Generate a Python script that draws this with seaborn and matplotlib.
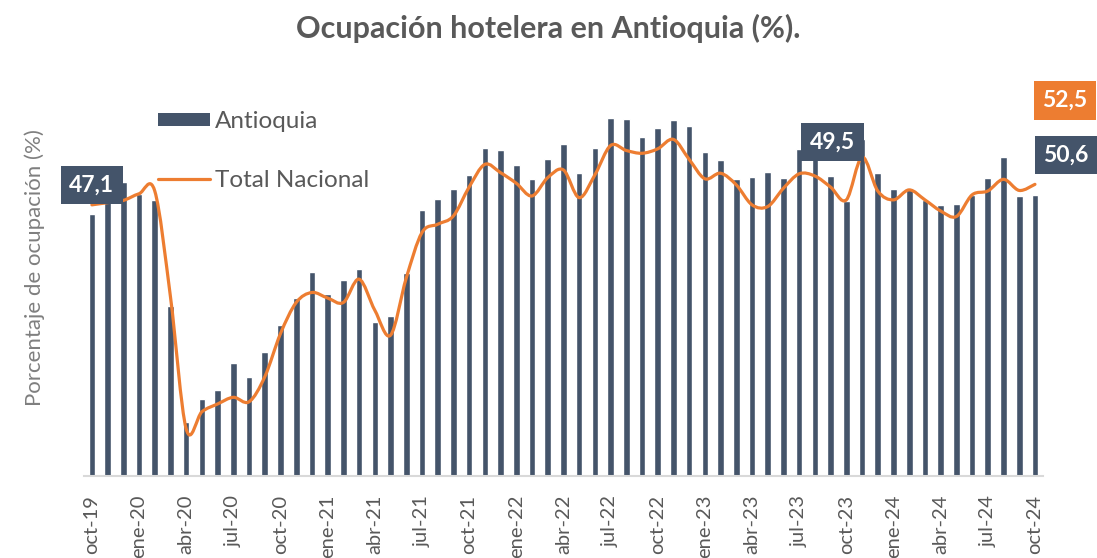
import numpy as np
import pandas as pd
import matplotlib.pyplot as plt
import seaborn as sns
from matplotlib.path import Path
from matplotlib.patches import PathPatch, Patch
from matplotlib.lines import Line2D

# Periodos mensuales oct-19 a oct-24
meses = ['ene', 'feb', 'mar', 'abr', 'may', 'jun', 'jul', 'ago', 'sep', 'oct', 'nov', 'dic']
periodos = [f'{meses[(9 + i) % 12]}-{19 + (9 + i) // 12}' for i in range(61)]

# Ocupacion hotelera Antioquia (%)
antioquia = [47.1, 51.0, 52.9, 50.7, 49.6, 30.6, 9.6, 13.8, 15.4, 20.3,
             17.8, 22.2, 27.1, 32.0, 36.7, 32.8, 35.3, 37.2, 27.6, 28.8,
             36.6, 47.8, 49.8, 51.6, 54.1, 59.0, 58.7, 55.9, 53.4, 57.1,
             59.8, 54.5, 59.0, 64.4, 64.2, 61.0, 62.6, 64.1, 63.1, 58.3,
             56.8, 53.5, 53.8, 54.7, 53.7, 58.8, 59.6, 54.0, 49.5, 60.7,
             54.6, 51.6, 51.8, 49.6, 48.8, 49.0, 50.5, 53.7, 57.4, 50.4,
             50.6]

# Ocupacion hotelera Total Nacional (%)
nacional = [48.8, 49.2, 49.6, 50.8, 51.3, 32.2, 8.4, 11.5, 12.9, 14.1,
            13.3, 17.8, 25.6, 31.2, 33.0, 32.0, 31.2, 35.4, 29.8, 25.3,
            35.6, 43.8, 45.3, 46.8, 52.0, 56.1, 54.6, 52.7, 50.4, 53.7,
            55.1, 50.1, 54.2, 59.5, 58.6, 58.1, 58.9, 60.6, 57.0, 53.5,
            54.5, 52.4, 48.8, 48.5, 51.8, 54.4, 54.0, 52.0, 49.7, 57.4,
            51.3, 49.7, 51.5, 49.7, 47.7, 46.7, 50.6, 51.3, 53.4, 51.4,
            52.5]

AZUL = '#44546A'
NARANJA = '#ED7D31'
GRIS = '#595959'


def curva_suave(x, y):
    """Trazo suavizado tipo Excel (Catmull-Rom a Bezier)"""
    pts = np.column_stack([x, y])
    ext = np.vstack([pts[0], pts, pts[-1]])
    verts = [pts[0]]
    codes = [Path.MOVETO]
    for i in range(len(pts) - 1):
        p0, p1, p2, p3 = ext[i], ext[i + 1], ext[i + 2], ext[i + 3]
        verts += [p1 + (p2 - p0) / 6, p2 - (p3 - p1) / 6, p2]
        codes += [Path.CURVE4] * 3
    return Path(verts, codes)


sns.set_theme(style='white')
plt.rcParams['font.family'] = ['Lato', 'DejaVu Sans']

fig = plt.figure(figsize=(10.97, 5.58), dpi=100)
ax = fig.add_axes([0.0766, 0.1478, 0.874, 0.7455])

df = pd.DataFrame({'periodo': periodos, 'antioquia': antioquia})
sns.barplot(data=df, x='periodo', y='antioquia', color=AZUL, saturation=1,
            width=0.42, ax=ax, zorder=2)

linea = PathPatch(curva_suave(np.arange(len(nacional)), nacional), fill=False,
                  ec=NARANJA, lw=2.3, zorder=3, capstyle='round')
ax.add_patch(linea)

ax.set_xlim(-0.5, 60.5)
ax.set_ylim(0, 75)
ax.set_yticks([])
ax.set_xticks(range(0, 61, 3))
ax.set_xticklabels(periodos[::3], rotation=90, color=GRIS, fontsize=14.5)
ax.tick_params(axis='x', length=0, pad=14)
for lado in ['top', 'right', 'left']:
    ax.spines[lado].set_visible(False)
ax.spines['bottom'].set_color('#D9D9D9')
ax.spines['bottom'].set_linewidth(1.5)
ax.set_xlabel('')
ax.set_ylabel('Porcentaje de ocupación (%)', color='#7F7F7F', fontsize=16, labelpad=28)

fig.suptitle('Ocupación hotelera en Antioquia (%).', x=0.5, y=0.975,
             fontsize=22, fontweight='bold', color=GRIS)

# Etiquetas de datos
estilo = dict(textcoords='offset pixels', ha='center', va='center', color='white',
              fontsize=16.5, fontweight='bold', zorder=5)
caja_azul = dict(boxstyle='square,pad=0.38', fc=AZUL, ec='none')
caja_naranja = dict(boxstyle='square,pad=0.38', fc=NARANJA, ec='none')
ax.annotate('47,1', xy=(0, antioquia[0]), xytext=(0, 29), bbox=caja_azul, **estilo)
ax.annotate('49,5', xy=(48, antioquia[48]), xytext=(-14, 59), bbox=caja_azul, **estilo)
ax.annotate('50,6', xy=(60, antioquia[60]), xytext=(31, 40), bbox=caja_azul, **estilo)
ax.annotate('52,5', xy=(60, nacional[60]), xytext=(30, 84), bbox=caja_naranja, **estilo)

manijas = [Patch(fc=AZUL, ec='none'), Line2D([], [], color=NARANJA, lw=2.3)]
ax.legend(manijas, ['Antioquia', 'Total Nacional'], loc='upper left',
          bbox_to_anchor=(158 / 1097, 1 - 111 / 558), bbox_transform=fig.transFigure,
          frameon=False, fontsize=17.5, labelcolor=GRIS, handlelength=2.15,
          handleheight=0.45, handletextpad=0.2, labelspacing=1.55, borderpad=0,
          borderaxespad=0)

fig.savefig('out.png', dpi=100)
